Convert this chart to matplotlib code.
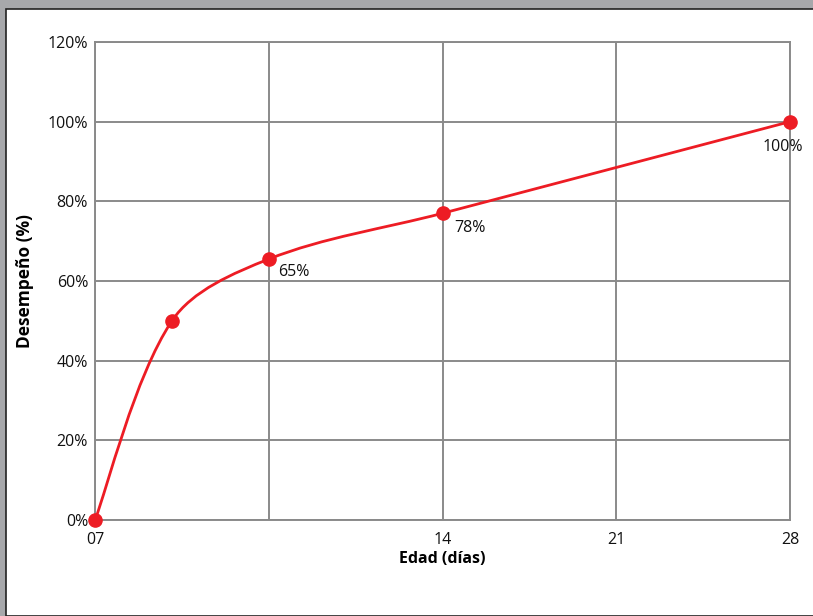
import matplotlib
matplotlib.use("Agg")
import matplotlib.pyplot as plt
from matplotlib.path import Path
from matplotlib.patches import PathPatch, Rectangle
import numpy as np

plt.rcParams['font.family'] = ['Open Sans', 'DejaVu Sans']

# data
dias = [0, 3.1, 7, 14, 28]
desempeno = [0, 50, 65.5, 77, 100]
etiquetas = {7: "65%", 14: "78%", 28: "100%"}
x_ticks = [0, 7, 14, 21, 28]
x_ticklabels = ["07", "", "14", "21", "28"]
y_ticks = [0, 20, 40, 60, 80, 100, 120]

RED = '#ed1c24'
GRID = '#8a8a8a'

fig = plt.figure(figsize=(8.13, 6.16), dpi=100)
fig.patch.set_facecolor('#a7a8ab')
# white page with dark top/left edge
fig.patches.append(Rectangle((6 / 813, 0), 1, 1 - 9 / 616, transform=fig.transFigure,
                             facecolor='white', edgecolor='#222222', linewidth=1.2, zorder=-5))

ax = fig.add_axes([95 / 813, 96 / 616, 695 / 813, 478 / 616])
ax.set_facecolor('none')
ax.set_zorder(2)
ax.set_xlim(0, 28)
ax.set_ylim(0, 120)

# smooth curve: bezier through the points, tangents scaled by on-screen chord length
pts = np.column_stack([dias, desempeno]).astype(float)
scr = ax.transData.transform(pts)
ext = np.vstack([pts[0], pts, pts[-1]])
d = np.hypot(*np.diff(scr, axis=0).T)
dext = np.concatenate([[d[0]], d, [d[-1]]])
verts = [tuple(pts[0])]
codes = [Path.MOVETO]
for i in range(len(pts) - 1):
    p0, p1, p2, p3 = ext[i], ext[i + 1], ext[i + 2], ext[i + 3]
    dprev, dcur, dnext = dext[i], dext[i + 1], dext[i + 2]
    c1 = p1 + (p2 - p0) * dcur / (3 * (dprev + dcur))
    c2 = p2 - (p3 - p1) * dcur / (3 * (dcur + dnext))
    verts += [tuple(c1), tuple(c2), tuple(p2)]
    codes += [Path.CURVE4] * 3
ax.add_patch(PathPatch(Path(verts, codes), facecolor='none', edgecolor=RED,
                       linewidth=2, zorder=3, clip_on=False))
ax.plot(dias, desempeno, 'o', color=RED, markersize=9.5, zorder=4, clip_on=False)

offsets = {7: (9, -13, 'left'), 14: (12, -15, 'left'), 28: (-7, -25, 'center')}
for dd, v in zip(dias, desempeno):
    if dd in etiquetas:
        dx, dy, ha = offsets[dd]
        ax.annotate(etiquetas[dd], (dd, v), xytext=(dx, dy), textcoords='offset pixels',
                    ha=ha, va='center', fontsize=11.5, color='#111111', zorder=5)

ax.set_xticks(x_ticks)
ax.set_xticklabels(x_ticklabels)
ax.set_yticks(y_ticks)
ax.set_yticklabels([f"{t}%" for t in y_ticks])
ax.tick_params(length=0, labelsize=11.5, colors='#111111')
ax.tick_params(axis='x', pad=9)
ax.tick_params(axis='y', pad=5)
ax.grid(True, color=GRID, linewidth=1.4, zorder=1)
ax.set_axisbelow(True)
for s in ax.spines.values():
    s.set_color(GRID)
    s.set_linewidth(1.4)

ax.set_xlabel("Edad (días)", fontsize=11.5, fontweight='bold', labelpad=2)
ax.set_ylabel("Desempeño (%)", fontsize=12.5, fontweight='bold', labelpad=10)

fig.savefig("out.png", dpi=100, facecolor=fig.get_facecolor())
